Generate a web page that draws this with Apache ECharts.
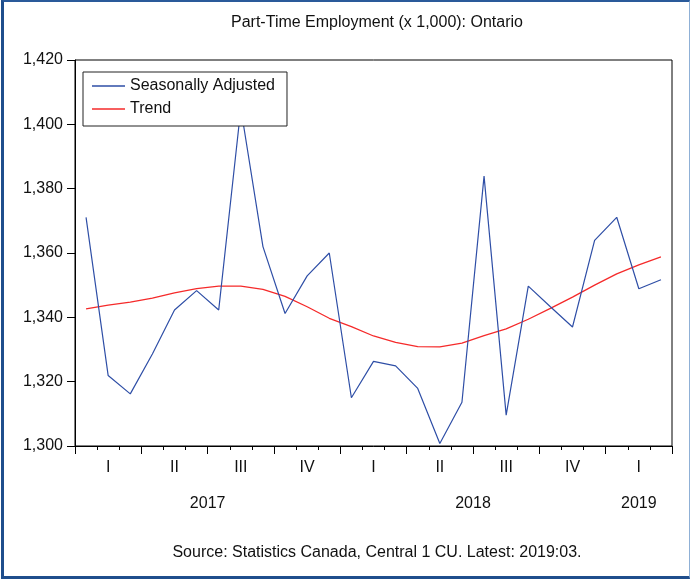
<!DOCTYPE html>
<html>
<head>
<meta charset="utf-8">
<script src="https://cdn.jsdelivr.net/npm/echarts@6/dist/echarts.min.js"></script>
<style>
  html, body { margin: 0; padding: 0; background: #fff; }
  #wrap { position: relative; width: 691px; height: 579px; }
  #chart { position: absolute; left: 0; top: 0; width: 691px; height: 579px; }
  #frame { position: absolute; left: 1px; top: 0; width: 689px; height: 579px; box-sizing: border-box;
           border-left: 3px solid #1F4E8C; border-bottom: 3px solid #1F4E8C; border-top: 2px solid #2A5A9A;
           border-right: 1px solid #8FB0D6; pointer-events: none; }
</style>
</head>
<body>
<div id="wrap"><div id="chart"></div><div id="frame"></div></div>
<script>
// ---- data ----
const months = [
  '2017-01','2017-02','2017-03','2017-04','2017-05','2017-06','2017-07','2017-08','2017-09','2017-10','2017-11','2017-12',
  '2018-01','2018-02','2018-03','2018-04','2018-05','2018-06','2018-07','2018-08','2018-09','2018-10','2018-11','2018-12',
  '2019-01','2019-02','2019-03'
];
const seasonallyAdjusted = [
  1371.1, 1321.9, 1316.2, 1328.6, 1342.3, 1348.3, 1342.3, 1405.0, 1362.0, 1341.2, 1352.9, 1360.0,
  1315.0, 1326.3, 1324.9, 1317.9, 1300.8, 1313.6, 1383.9, 1309.6, 1349.7, 1343.3, 1337.0, 1363.9,
  1371.1, 1348.9, 1351.7
];
const trend = [
  1342.6, 1343.8, 1344.7, 1346.0, 1347.6, 1348.9, 1349.7, 1349.7, 1348.7, 1346.5, 1343.3, 1339.7,
  1337.1, 1334.2, 1332.2, 1330.9, 1330.8, 1332.0, 1334.3, 1336.4, 1339.4, 1342.8, 1346.3, 1350.0,
  1353.5, 1356.3, 1358.8
];
const quarterLabels = ['I', 'II', 'III', 'IV'];
const years = ['2017', '2018', '2019'];
const yTicks = { min: 1300, max: 1420, interval: 20 };

// year label positions on a half-month boundary axis
const halfBoundaries = [];
for (let k = 0; k <= months.length * 2; k++) halfBoundaries.push(String(k));
const yearCenters = {};
years.forEach(y => {
  const idx = months.map((m, i) => m.startsWith(y) ? i : -1).filter(i => i >= 0);
  yearCenters[idx[0] + idx[idx.length - 1] + 1] = y;
});

const FONT = "'Liberation Sans', Arial, sans-serif";
const TXT = '#111';
const FS = 16;

const chart = echarts.init(document.getElementById('chart'), null, { renderer: 'canvas' });
chart.setOption({
  animation: false,
  backgroundColor: '#fff',
  title: [
    { text: 'Part-Time Employment (x 1,000): Ontario', left: 372, top: 10, textAlign: 'center',
      textStyle: { fontFamily: FONT, fontSize: FS, fontWeight: 'normal', color: TXT } },
    { text: 'Source: Statistics Canada, Central 1 CU. Latest: 2019:03.', left: 372, top: 540, textAlign: 'center',
      textStyle: { fontFamily: FONT, fontSize: FS, fontWeight: 'normal', color: TXT } }
  ],
  legend: {
    orient: 'vertical', left: 83, top: 72,
    data: ['Seasonally Adjusted', 'Trend'],
    icon: 'rect', itemWidth: 33, itemHeight: 1.5, itemGap: 5, itemTextGap: 6,
    padding: [5, 12, 8, 9],
    backgroundColor: '#fff', borderColor: '#222', borderWidth: 1, borderRadius: 0,
    textStyle: { fontFamily: FONT, fontSize: FS, lineHeight: 18, color: TXT },
    z: 10
  },
  grid: { left: 75, right: 19, top: 60, bottom: 133, show: true, borderColor: '#000', borderWidth: 1, backgroundColor: 'transparent' },
  xAxis: [
    {
      type: 'category', data: months, boundaryGap: true, position: 'bottom',
      axisLine: { show: true, lineStyle: { color: '#000', width: 1 } },
      axisTick: { show: true, interval: 0, length: 4, inside: false, lineStyle: { color: '#000' } },
      axisLabel: {
        interval: 0, margin: 14, fontFamily: FONT, fontSize: FS, color: TXT,
        formatter: (v, i) => (i % 3 === 1 ? quarterLabels[Math.floor(i / 3) % 4] : '')
      },
      splitLine: { show: false }
    },
    {
      type: 'category', data: months, boundaryGap: true, position: 'bottom',
      axisLine: { show: false },
      axisTick: { show: true, interval: (i) => i % 3 === 0, length: 8, lineStyle: { color: '#000' } },
      axisLabel: { show: false },
      splitLine: { show: false }
    },
    {
      type: 'category', data: halfBoundaries, boundaryGap: false, position: 'bottom',
      axisLine: { show: false }, axisTick: { show: false },
      axisLabel: {
        interval: 0, margin: 50, fontFamily: FONT, fontSize: FS, color: TXT,
        formatter: (v, i) => yearCenters[i] || ''
      },
      splitLine: { show: false }
    }
  ],
  yAxis: {
    type: 'value', min: yTicks.min, max: yTicks.max, interval: yTicks.interval,
    axisLine: { show: true, lineStyle: { color: '#000' } },
    axisTick: { show: true, length: 8, lineStyle: { color: '#000' } },
    axisLabel: { margin: 12, fontFamily: FONT, fontSize: FS, color: TXT,
      formatter: v => v.toLocaleString('en-US') },
    splitLine: { show: false }
  },
  series: [
    { name: 'Seasonally Adjusted', type: 'line', data: seasonallyAdjusted, xAxisIndex: 0,
      symbol: 'none', lineStyle: { color: '#2E4EA6', width: 1.2 }, itemStyle: { color: '#2E4EA6' }, z: 3 },
    { name: 'Trend', type: 'line', data: trend, xAxisIndex: 0,
      symbol: 'none', lineStyle: { color: '#F52A2A', width: 1.3 }, itemStyle: { color: '#F52A2A' }, z: 2 }
  ]
});
</script>
</body>
</html>
